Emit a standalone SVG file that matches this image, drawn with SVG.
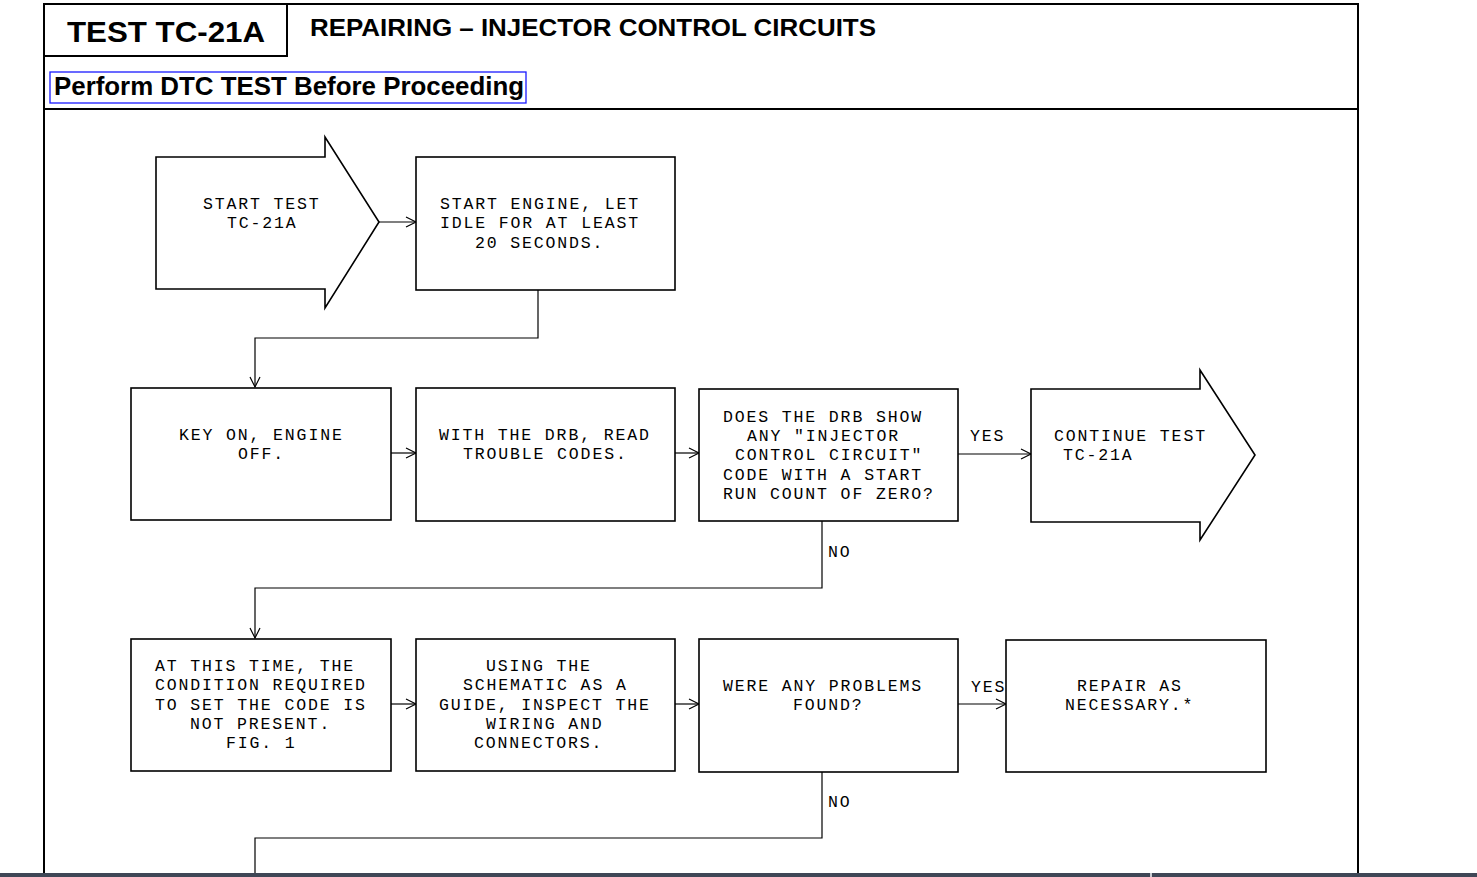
<svg xmlns="http://www.w3.org/2000/svg" width="1477" height="877" viewBox="0 0 1477 877">
<defs>
<style>
.frame{fill:none;stroke:#000;stroke-width:2}
.box{fill:#fff;stroke:#000;stroke-width:1.6}
.conn{fill:none;stroke:#000;stroke-width:1.2}
.t{font-family:"Liberation Mono","Courier New",monospace;font-size:16.5px;letter-spacing:1.86px;fill:#000}
.h{font-family:"Liberation Sans",Arial,sans-serif;font-weight:bold;fill:#000}
</style>
<marker id="ah" markerUnits="userSpaceOnUse" markerWidth="14" markerHeight="12" refX="12" refY="6" orient="auto">
<path d="M2,1 L12,6 L2,11" fill="none" stroke="#000" stroke-width="1.2"/>
</marker>
</defs>
<rect x="0" y="0" width="1477" height="877" fill="#fff"/>
<g id="header">
<path class="frame" d="M44,877 V4 H1358 V877"/>
<path class="frame" d="M44,56 H287 V4"/>
<path class="frame" d="M44,109 H1358"/>
<text class="h" x="67" y="42" font-size="30" textLength="198" lengthAdjust="spacingAndGlyphs">TEST TC-21A</text>
<text class="h" x="310" y="36" font-size="24" textLength="566" lengthAdjust="spacingAndGlyphs">REPAIRING – INJECTOR CONTROL CIRCUITS</text>
<rect x="50" y="72" width="476" height="31" fill="none" stroke="#1a1aff" stroke-width="1.3"/>
<text class="h" x="54" y="95" font-size="25" textLength="470" lengthAdjust="spacingAndGlyphs">Perform DTC TEST Before Proceeding</text>
</g>
<g id="connectors">
<line class="conn" x1="379" y1="222" x2="416" y2="222" marker-end="url(#ah)"/>
<path class="conn" d="M538,290 V338 H255 V387" marker-end="url(#ah)"/>
<line class="conn" x1="391" y1="453" x2="416" y2="453" marker-end="url(#ah)"/>
<line class="conn" x1="675" y1="453" x2="699" y2="453" marker-end="url(#ah)"/>
<line class="conn" x1="958" y1="454" x2="1031" y2="454" marker-end="url(#ah)"/>
<path class="conn" d="M822,521 V588 H255 V638" marker-end="url(#ah)"/>
<line class="conn" x1="391" y1="704" x2="416" y2="704" marker-end="url(#ah)"/>
<line class="conn" x1="675" y1="704" x2="699" y2="704" marker-end="url(#ah)"/>
<line class="conn" x1="958" y1="704" x2="1006" y2="704" marker-end="url(#ah)"/>
<path class="conn" d="M822,772 V838 H255 V877"/>
<text class="t" x="970" y="441">YES</text>
<text class="t" x="971" y="692">YES</text>
<text class="t" x="828" y="557">NO</text>
<text class="t" x="828" y="807">NO</text>
</g>
<g id="start">
<path class="box" d="M156,157 H325 V137 L379,222 L325,308 V289 H156 Z"/>
<text class="t" x="203" y="209">START TEST</text>
<text class="t" x="227" y="228">TC-21A</text>
</g>
<g id="start-engine">
<rect class="box" x="416" y="157" width="259" height="133"/>
<text class="t" x="440" y="209">START ENGINE, LET</text>
<text class="t" x="440" y="228">IDLE FOR AT LEAST</text>
<text class="t" x="475" y="248">20 SECONDS.</text>
</g>
<g id="key-on">
<rect class="box" x="131" y="388" width="260" height="132"/>
<text class="t" x="179" y="440">KEY ON, ENGINE</text>
<text class="t" x="238" y="459">OFF.</text>
</g>
<g id="read-codes">
<rect class="box" x="416" y="388" width="259" height="133"/>
<text class="t" x="439" y="440">WITH THE DRB, READ</text>
<text class="t" x="463" y="459">TROUBLE CODES.</text>
</g>
<g id="drb-show">
<rect class="box" x="699" y="389" width="259" height="132"/>
<text class="t" x="723" y="422">DOES THE DRB SHOW</text>
<text class="t" x="747" y="441">ANY "INJECTOR</text>
<text class="t" x="735" y="460">CONTROL CIRCUIT"</text>
<text class="t" x="723" y="480">CODE WITH A START</text>
<text class="t" x="723" y="499">RUN COUNT OF ZERO?</text>
</g>
<g id="continue">
<path class="box" d="M1031,389 H1200 V370 L1255,455 L1200,540 V522 H1031 Z"/>
<text class="t" x="1054" y="441">CONTINUE TEST</text>
<text class="t" x="1063" y="460">TC-21A</text>
</g>
<g id="condition">
<rect class="box" x="131" y="639" width="260" height="132"/>
<text class="t" x="155" y="671">AT THIS TIME, THE</text>
<text class="t" x="155" y="690">CONDITION REQUIRED</text>
<text class="t" x="155" y="710">TO SET THE CODE IS</text>
<text class="t" x="190" y="729">NOT PRESENT.</text>
<text class="t" x="226" y="748">FIG. 1</text>
</g>
<g id="inspect">
<rect class="box" x="416" y="639" width="259" height="132"/>
<text class="t" x="486" y="671">USING THE</text>
<text class="t" x="463" y="690">SCHEMATIC AS A</text>
<text class="t" x="439" y="710">GUIDE, INSPECT THE</text>
<text class="t" x="486" y="729">WIRING AND</text>
<text class="t" x="474" y="748">CONNECTORS.</text>
</g>
<g id="problems">
<rect class="box" x="699" y="639" width="259" height="133"/>
<text class="t" x="723" y="691">WERE ANY PROBLEMS</text>
<text class="t" x="793" y="710">FOUND?</text>
</g>
<g id="repair">
<rect class="box" x="1006" y="640" width="260" height="132"/>
<text class="t" x="1077" y="691">REPAIR AS</text>
<text class="t" x="1065" y="710">NECESSARY.*</text>
</g>
<g id="bottom-bar">
<rect x="0" y="873" width="1477" height="4" fill="#3f4756"/>
<rect x="1150" y="873" width="2" height="4" fill="#c8ccd2"/>
</g>
</svg>
